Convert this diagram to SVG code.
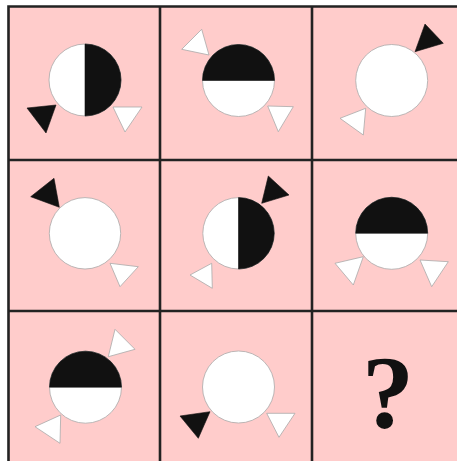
<svg xmlns="http://www.w3.org/2000/svg" width="457" height="461" viewBox="0 0 457 461">
<style>
.bg{fill:#ffcccb}
.grid{stroke:#222;stroke-width:2.6;fill:none}
.w{fill:#fff;stroke:#aaa;stroke-width:0.8}
.b{fill:#111;stroke:#111;stroke-width:0.6}
.q{font-family:"Liberation Serif",serif;font-weight:bold;font-size:104px;fill:#111;text-anchor:middle}
</style>
<rect width="457" height="461" fill="#fff"/>
<rect class="bg" x="8" y="6" width="449" height="455"/>
<g id="grid" class="grid">
<path d="M8.5,461 V6.5 H457"/>
<path d="M160,6 V461 M312,6 V461"/>
<path d="M8,160 H457 M8,311 H457"/>
</g>
<g id="cell1">
<circle class="w" cx="85" cy="80" r="36"/>
<path class="b" d="M85,44 A36,36 0 0 1 85,116 Z"/>
<polygon class="b" points="27,108 56,105 46,133"/>
<polygon class="w" points="113,107 142,107 125,132"/>
</g>
<g id="cell2">
<circle class="w" cx="238.5" cy="80.5" r="36"/>
<path class="b" d="M202.5,80.5 A36,36 0 0 1 274.5,80.5 Z"/>
<polygon class="w" points="181.7,49.3 201.7,29.3 209,55"/>
<polygon class="w" points="267.7,106 293.3,106.7 278.3,131.7"/>
</g>
<g id="cell3">
<circle class="w" cx="391.7" cy="80.5" r="36"/>
<polygon class="b" points="415,51.7 425,24 443.3,43.3"/>
<polygon class="w" points="340,118.3 365.7,108.3 363.3,135"/>
</g>
<g id="cell4">
<circle class="w" cx="85" cy="233.3" r="35.7"/>
<polygon class="b" points="30.7,196.7 54,178.3 59.3,207.3"/>
<polygon class="w" points="110,263.3 138.3,266.7 120,286.7"/>
</g>
<g id="cell5">
<circle class="w" cx="238.5" cy="233.3" r="35.7"/>
<path class="b" d="M238.5,197.6 A35.7,35.7 0 0 1 238.5,269 Z"/>
<polygon class="b" points="261.7,203.3 268.3,176 289,195"/>
<polygon class="w" points="190,275 211.7,263.3 212.3,288.3"/>
</g>
<g id="cell6">
<circle class="w" cx="391.7" cy="233.3" r="36"/>
<path class="b" d="M355.7,233.3 A36,36 0 0 1 427.7,233.3 Z"/>
<polygon class="w" points="335,263.3 363.3,256.7 353.3,285"/>
<polygon class="w" points="420,260 448.3,261.7 431.7,286.7"/>
</g>
<g id="cell7">
<circle class="w" cx="85.5" cy="387.2" r="36"/>
<path class="b" d="M49.5,387.2 A36,36 0 0 1 121.5,387.2 Z"/>
<polygon class="w" points="108.3,356.7 115,329.3 135,349.3"/>
<polygon class="w" points="35,426.7 60.7,415 60,443.3"/>
</g>
<g id="cell8">
<circle class="w" cx="238.5" cy="387" r="36"/>
<polygon class="b" points="180,416 210,411.7 198.3,438.3"/>
<polygon class="w" points="266.7,413.3 295,413.3 279,437.3"/>
</g>
<g id="cell9">
<text class="q" x="388" y="428">?</text>
</g>
</svg>
